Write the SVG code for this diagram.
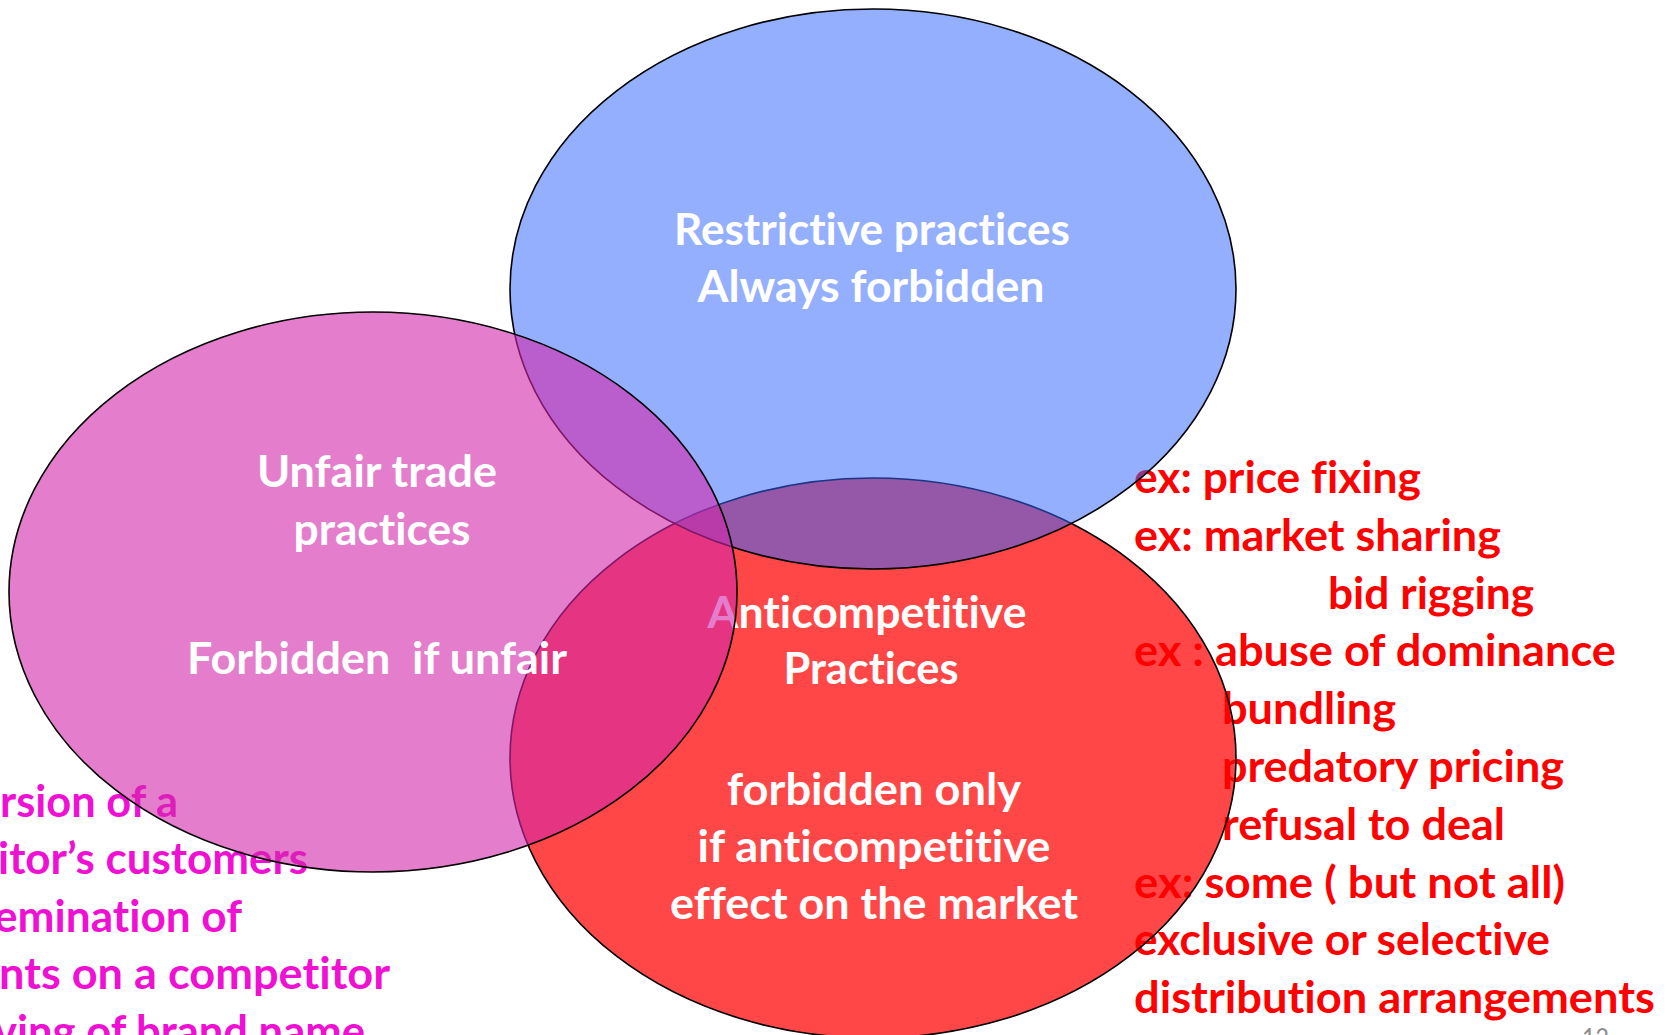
<svg xmlns="http://www.w3.org/2000/svg" width="1669" height="1035" viewBox="0 0 1669 1035">
<style>
text{font-family:"Lato","Liberation Sans",sans-serif;font-weight:bold;font-size:43px;font-variant-ligatures:none;font-feature-settings:"liga" 0,"clig" 0;white-space:pre;}
.w{fill:#ffffff;text-anchor:middle;}
.r{fill:#ff0000;}
.m{fill:#ef10d4;}
.n{fill:#8c8c8c;font-size:26px;font-weight:normal;}
.e{stroke:#000000;stroke-width:1.6;}
</style>
<rect width="1669" height="1035" fill="#ffffff"/>
<g id="examples-right">
<text class="r" x="1134" y="493" textLength="287" lengthAdjust="spacingAndGlyphs">ex: price fixing</text>
<text class="r" x="1134" y="551" textLength="367" lengthAdjust="spacingAndGlyphs">ex: market sharing</text>
<text class="r" x="1328" y="609" textLength="206" lengthAdjust="spacingAndGlyphs">bid rigging</text>
<text class="r" x="1134" y="666" textLength="482" lengthAdjust="spacingAndGlyphs">ex : abuse of dominance</text>
<text class="r" x="1222" y="724" textLength="174" lengthAdjust="spacingAndGlyphs">bundling</text>
<text class="r" x="1222" y="782" textLength="342" lengthAdjust="spacingAndGlyphs">predatory pricing</text>
<text class="r" x="1222" y="840" textLength="283" lengthAdjust="spacingAndGlyphs">refusal to deal</text>
<text class="r" x="1134" y="898" textLength="431" lengthAdjust="spacingAndGlyphs">ex: some ( but not all)</text>
<text class="r" x="1134" y="955" textLength="416" lengthAdjust="spacingAndGlyphs">exclusive or selective</text>
<text class="r" x="1134" y="1013" textLength="521" lengthAdjust="spacingAndGlyphs">distribution arrangements</text>
</g>
<g id="examples-left">
<text class="m" x="0" y="817" textLength="178" lengthAdjust="spacingAndGlyphs">rsion of a</text>
<text class="m" x="-2" y="874" textLength="310" lengthAdjust="spacingAndGlyphs">itor’s customers</text>
<text class="m" x="-6" y="932" textLength="248" lengthAdjust="spacingAndGlyphs">emination of</text>
<text class="m" x="-1" y="989" textLength="391" lengthAdjust="spacingAndGlyphs">nts on a competitor</text>
<text class="m" x="-6" y="1047" textLength="371" lengthAdjust="spacingAndGlyphs">ving of brand name</text>
</g>
<g id="anticompetitive">
<ellipse class="e" cx="873" cy="758" rx="363" ry="280" fill="#ff0000" fill-opacity="0.72"/>
<text class="w" x="867" y="628" textLength="319" lengthAdjust="spacingAndGlyphs">Anticompetitive</text>
<text class="w" x="871" y="684" textLength="175" lengthAdjust="spacingAndGlyphs">Practices</text>
<text class="w" x="874" y="805" textLength="294" lengthAdjust="spacingAndGlyphs">forbidden only</text>
<text class="w" x="874" y="862" textLength="353" lengthAdjust="spacingAndGlyphs">if anticompetitive</text>
<text class="w" x="874" y="919" textLength="408" lengthAdjust="spacingAndGlyphs">effect on the market</text>
</g>
<g id="restrictive">
<ellipse class="e" cx="873" cy="289" rx="363" ry="280" fill="#3366ff" fill-opacity="0.52"/>
<text class="w" x="872" y="245" textLength="396" lengthAdjust="spacingAndGlyphs">Restrictive practices</text>
<text class="w" x="871" y="302" textLength="347" lengthAdjust="spacingAndGlyphs">Always forbidden</text>
</g>
<g id="unfair">
<ellipse class="e" cx="373" cy="592" rx="364" ry="280" fill="#d228aa" fill-opacity="0.6"/>
<text class="w" x="377" y="487" textLength="240" lengthAdjust="spacingAndGlyphs">Unfair trade</text>
<text class="w" x="382" y="545" textLength="177" lengthAdjust="spacingAndGlyphs">practices</text>
<text class="w" x="377" y="674" textLength="380" lengthAdjust="spacingAndGlyphs">Forbidden  if unfair</text>
</g>
<g id="connectors"></g>
<text class="n" x="1582" y="1048" textLength="27" lengthAdjust="spacingAndGlyphs">12</text>
</svg>
